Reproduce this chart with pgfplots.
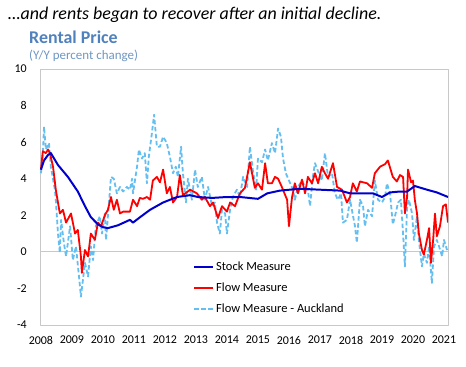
\documentclass[border=0pt]{standalone}
\usepackage{fontspec}
\setmainfont{Carlito}
\usepackage{pgfplots}
\pgfplotsset{compat=1.18}
\definecolor{stockc}{RGB}{0,0,204}
\definecolor{flowc}{RGB}{255,0,0}
\definecolor{aklc}{RGB}{100,190,240}
\definecolor{titlec}{RGB}{79,129,189}
\definecolor{subc}{RGB}{110,150,195}
\definecolor{framec}{RGB}{200,200,200}
\begin{document}
\begin{tikzpicture}[x=1bp,y=1bp]
\path[use as bounding box] (-40,-41) rectangle (426,325);
\node[anchor=base west, inner sep=0, font=\fontsize{18}{21}\selectfont\itshape] at (-32,306) {…and rents began to recover after an initial decline.};
\node[anchor=base west, inner sep=0, font=\fontsize{18}{21}\selectfont\bfseries, text=titlec] at (-11,282) {Rental Price};
\node[anchor=base west, inner sep=0, font=\fontsize{13}{15}\selectfont, text=subc] at (-11,266) {(Y/Y percent change)};
\begin{axis}[at={(0,0)}, anchor=south west, scale only axis, width=408bp, height=256bp,
  xmin=2007.97, xmax=2021.13, ymin=-4, ymax=10,
  xtick={2008,2009,...,2021}, ytick={-4,-2,...,10},
  major tick length=0pt,
  axis line style={framec, line width=0.8pt},
  /pgf/number format/assume math mode=true,
  /pgf/number format/1000 sep={},
  tick label style={font=\fontsize{12}{14}\selectfont, inner sep=0pt},
  yticklabel style={anchor=east, xshift=-13bp},
  xticklabel style={anchor=north, yshift=-11bp},
  extra y ticks={0}, extra y tick labels={},
  extra y tick style={grid=major, major grid style={framec, line width=0.8pt}},
  legend style={at={(0.375,0.255)}, anchor=north west, draw=none, fill=none,
    font=\fontsize{12.5}{14}\selectfont, row sep=7bp, inner sep=0pt},
  legend cell align=left,
  legend image code/.code={\draw[#1] (0bp,0bp) -- (19bp,0bp);},
  reverse legend,
  line join=round,
]
\addplot[aklc, line width=1.8pt, dash pattern=on 4.5bp off 2.5bp] coordinates {
(2008.00,4.3) (2008.06,5.2) (2008.10,6.85) (2008.16,5.6) (2008.26,5.95) (2008.32,4.66)
(2008.45,3.4) (2008.48,2.85) (2008.55,1.0) (2008.61,-0.05) (2008.65,1.75) (2008.74,0.5)
(2008.81,-0.25) (2008.94,1.4) (2009.03,-0.45) (2009.13,0.3) (2009.26,-1.9) (2009.29,-2.45)
(2009.42,-0.6) (2009.52,-1.35) (2009.61,0.3) (2009.68,-0.45) (2009.77,1.4) (2009.90,1.95)
(2009.97,1.0) (2010.06,2.1) (2010.10,0.65) (2010.26,4.1) (2010.35,4.0) (2010.45,3.2)
(2010.55,3.55) (2010.65,3.3) (2010.77,3.55) (2010.87,3.4) (2010.94,4.0) (2010.97,3.2)
(2011.10,4.66) (2011.16,5.6) (2011.26,5.1) (2011.35,5.4) (2011.42,3.75) (2011.48,5.2)
(2011.58,6.5) (2011.65,7.5) (2011.74,5.75) (2011.84,5.75) (2011.94,6.3) (2012.06,5.95)
(2012.16,5.2) (2012.26,4.3) (2012.35,4.66) (2012.42,4.1) (2012.52,5.75) (2012.58,4.3)
(2012.68,2.7) (2012.74,4.0) (2012.87,2.85) (2012.97,4.5) (2013.06,3.55) (2013.19,4.1)
(2013.29,2.85) (2013.39,3.55) (2013.52,2.5) (2013.61,2.7) (2013.68,1.6) (2013.77,1.0)
(2013.84,2.3) (2013.94,2.1) (2014.00,1.0) (2014.10,2.3) (2014.19,3.0) (2014.32,3.4)
(2014.42,3.0) (2014.52,4.1) (2014.65,3.55) (2014.74,5.75) (2014.84,4.4) (2014.94,3.4)
(2015.00,5.1) (2015.13,4.9) (2015.23,5.6) (2015.32,5.0) (2015.45,5.95) (2015.55,5.4)
(2015.65,6.75) (2015.74,6.3) (2015.81,5.1) (2015.90,4.3) (2016.00,3.9) (2016.13,3.4)
(2016.19,2.85) (2016.29,3.55) (2016.42,3.9) (2016.52,3.55) (2016.61,3.4) (2016.68,2.5)
(2016.77,4.1) (2016.84,4.85) (2016.94,4.4) (2017.06,3.9) (2017.16,5.4) (2017.26,4.1)
(2017.39,4.3) (2017.48,3.2) (2017.58,2.85) (2017.68,3.2) (2017.74,1.6) (2017.87,1.75)
(2017.97,2.85) (2018.03,2.3) (2018.13,1.4) (2018.19,0.5) (2018.29,2.85) (2018.39,2.5)
(2018.45,1.4) (2018.55,2.3) (2018.68,1.95) (2018.77,3.9) (2018.87,2.85) (2019.00,2.7)
(2019.10,3.0) (2019.16,3.75) (2019.26,3.2) (2019.35,1.5) (2019.42,1.95) (2019.52,2.7)
(2019.61,2.85) (2019.68,1.0) (2019.74,-0.8) (2019.81,2.5) (2019.87,2.85) (2019.97,2.1)
(2020.03,0.65) (2020.13,1.95) (2020.19,0.65) (2020.29,-0.8) (2020.35,-0.1) (2020.45,-0.6)
(2020.52,0.3) (2020.61,-1.7) (2020.68,0.3) (2020.77,0.65) (2020.84,0.3) (2020.94,-0.25)
(2021.00,0.65) (2021.10,0.1)
};
\addlegendentry{Flow Measure - Auckland}
\addplot[flowc, line width=1.8pt] coordinates {
(2008.00,4.5) (2008.06,5.5) (2008.16,5.4) (2008.23,5.6) (2008.29,5.4) (2008.39,4.66)
(2008.48,3.4) (2008.61,2.1) (2008.71,2.3) (2008.81,1.6) (2008.97,2.1) (2009.10,1.0)
(2009.19,1.2) (2009.29,-0.25) (2009.32,-1.15) (2009.42,0.1) (2009.52,-0.25) (2009.61,1.0)
(2009.74,0.66) (2009.84,1.6) (2009.94,1.4) (2010.06,2.0) (2010.16,2.3) (2010.26,3.0)
(2010.35,2.3) (2010.45,2.85) (2010.55,2.1) (2010.65,2.2) (2010.87,2.2) (2010.97,2.85)
(2011.10,2.5) (2011.19,2.95) (2011.29,2.9) (2011.42,3.0) (2011.52,2.85) (2011.61,3.9)
(2011.74,4.1) (2011.84,3.8) (2011.94,4.5) (2012.06,3.2) (2012.16,3.55) (2012.26,2.7)
(2012.39,3.0) (2012.48,4.2) (2012.58,3.1) (2012.81,3.4) (2013.03,3.2) (2013.19,2.85)
(2013.29,3.0) (2013.45,2.5) (2013.55,2.7) (2013.71,1.85) (2013.84,2.5) (2014.00,2.2)
(2014.10,2.7) (2014.26,2.5) (2014.42,3.2) (2014.58,3.5) (2014.74,4.9) (2014.90,3.5)
(2015.00,3.75) (2015.13,3.4) (2015.23,4.85) (2015.32,3.75) (2015.45,3.75) (2015.55,4.1)
(2015.65,4.0) (2015.77,3.55) (2015.94,2.85) (2016.00,1.4) (2016.10,3.0) (2016.19,3.75)
(2016.29,3.2) (2016.42,3.95) (2016.52,3.2) (2016.61,4.1) (2016.74,3.75) (2016.84,4.3)
(2016.94,3.75) (2017.06,4.65) (2017.16,4.3) (2017.26,4.0) (2017.42,4.85) (2017.55,3.55)
(2017.71,3.4) (2017.87,2.7) (2017.97,3.0) (2018.06,3.75) (2018.19,3.3) (2018.29,3.85)
(2018.52,3.75) (2018.68,3.5) (2018.77,4.3) (2018.94,4.66) (2019.10,4.8) (2019.19,5.0)
(2019.35,4.1) (2019.48,3.85) (2019.58,4.2) (2019.68,4.1) (2019.74,2.1) (2019.81,3.0)
(2019.84,4.5) (2019.94,3.8) (2020.00,3.9) (2020.06,2.85) (2020.13,2.1) (2020.19,1.0)
(2020.29,0.1) (2020.35,-0.15) (2020.45,0.65) (2020.52,1.3) (2020.58,-0.6) (2020.65,0.65)
(2020.71,2.1) (2020.77,0.85) (2020.87,1.4) (2020.97,2.5) (2021.06,2.6) (2021.13,1.6)
};
\addlegendentry{Flow Measure}
\addplot[stockc, line width=2pt] coordinates {
(2008.00,4.5) (2008.10,5.0) (2008.23,5.3) (2008.32,5.4) (2008.55,4.75) (2008.87,4.1)
(2009.19,3.3) (2009.42,2.5) (2009.61,1.9) (2009.84,1.5) (2010.00,1.35) (2010.16,1.3)
(2010.48,1.45) (2010.87,1.75) (2010.97,1.6) (2011.20,1.9) (2011.52,2.3) (2011.94,2.7)
(2012.39,3.0) (2012.81,3.1) (2013.06,3.0) (2013.52,2.95) (2014.00,3.0) (2014.42,3.0)
(2015.00,2.9) (2015.30,3.2) (2015.71,3.35) (2016.35,3.45) (2017.00,3.4) (2017.65,3.35)
(2017.97,3.2) (2018.29,3.2) (2018.71,3.2) (2019.00,3.0) (2019.26,3.25) (2019.58,3.3)
(2019.81,3.3) (2020.06,3.6) (2020.45,3.4) (2020.77,3.25) (2021.13,3.0)
};
\addlegendentry{Stock Measure}
\end{axis}
\end{tikzpicture}
\end{document}
